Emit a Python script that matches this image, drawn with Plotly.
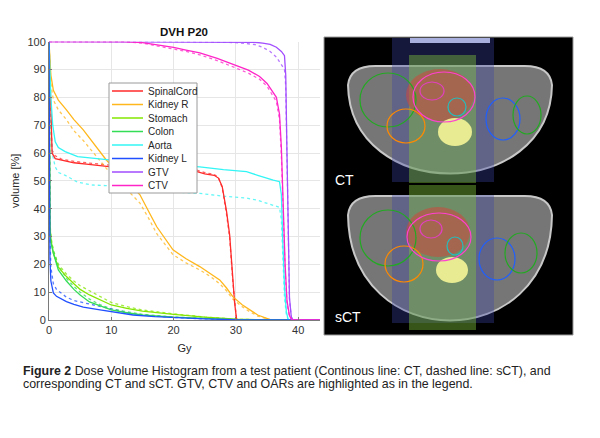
import plotly.graph_objects as go

# ---------------- data ----------------
structures = ["SpinalCord", "Kidney R", "Stomach", "Colon", "Aorta", "Kidney L", "GTV", "CTV"]
colors = ["#ff2a2a", "#ffb71c", "#84e600", "#33dd55", "#33f5f5", "#1f4fff", "#a24dff", "#ff24c8"]

cord_dose = [0, 0.2, 0.5, 1, 2, 4, 6, 9, 10, 15, 20, 23.5, 25, 26.5, 27.2, 27.8, 28.5, 29, 29.5, 29.8, 30.1, 30.3, 43.5]
cord_ct = [100, 80, 60, 58, 57.5, 56.5, 56, 55.3, 55, 54.8, 54.3, 53.5, 52.5, 52, 51, 48, 39, 30.5, 15, 6, 0.5, 0, 0]
cord_sct = [100, 78, 61, 59, 57.8, 57, 56.5, 56, 55.6, 55.2, 54.5, 54, 53, 52.3, 51.2, 47.5, 38, 29.5, 14, 5.5, 0.3, 0, 0]

kidr_dose = [0, 0.1, 0.3, 0.7, 1.5, 2.8, 4, 5.5, 7, 9.2, 12, 14.6, 16, 17.3, 19.9, 22, 24.2, 26, 27.4, 28.5, 29.5, 31, 32.2, 33.5, 35.4, 36, 43.5]
kidr_ct = [100, 95, 88, 82.5, 79, 75.5, 72, 68.3, 64, 57.5, 51, 45, 39, 33.5, 25.2, 22, 19.2, 16.5, 14.4, 11.5, 8.4, 5.5, 3.6, 1.8, 0.2, 0, 0]
kidr_sct = [100, 93, 85, 79, 75.5, 72, 68, 64.5, 60.5, 54.5, 48, 42, 36.5, 31, 23.5, 20.5, 18, 15.5, 13, 10.5, 7.5, 4.8, 3, 1.4, 0.2, 0, 0]

gi_dose = [0, 0.05, 0.15, 0.3, 0.7, 1.5, 2.8, 4, 5, 6.5, 8.2, 10, 12.5, 15, 20, 25, 30, 35, 43.5]
stom_ct = [100, 60, 35, 29, 24, 19, 15.6, 13, 11, 9, 7.2, 5.4, 4.2, 3.2, 2, 1, 0.3, 0, 0]
stom_sct = [100, 62, 36, 30, 25, 20, 16.5, 14, 12.3, 10.5, 8.5, 6.3, 4.8, 3.6, 2.2, 1.1, 0.3, 0, 0]
colon_ct = [100, 55, 33, 28, 24, 18, 14, 11, 9, 6.5, 5, 3.6, 2.6, 1.8, 1.0, 0.5, 0.15, 0, 0]
colon_sct = [100, 57, 35, 29, 25, 19.5, 15, 12, 10, 7.5, 5.5, 4, 2.9, 2, 1.1, 0.5, 0.15, 0, 0]

aorta_dose = [0, 0.1, 0.3, 0.6, 1, 1.5, 2.6, 4.6, 7, 9, 12, 16, 20, 24.2, 28, 31.7, 33.5, 34.9, 36, 37, 37.3, 37.5, 37.8, 38.1, 38.4, 43.5]
aorta_ct = [100, 92, 80, 70, 64, 62, 60.5, 58.7, 58.2, 57.8, 57, 56, 55.5, 55, 54, 53.3, 52, 50.9, 50.3, 49.7, 45, 30, 12, 3, 0, 0]
aorta_sct = [100, 85, 68, 59, 55, 53, 52, 49.5, 48.5, 48.3, 48, 47, 46, 45.5, 44.5, 43.8, 43, 42, 41.2, 40.5, 36, 22, 8, 2, 0, 0]

kidl_dose = [0, 0.05, 0.15, 0.3, 0.5, 0.7, 1.2, 2, 2.8, 4, 5.5, 8.2, 10, 13.5, 17, 20, 25, 30, 43.5]
kidl_ct = [100, 50, 22, 14, 11, 9.7, 8.5, 7.4, 6.6, 5.6, 4.6, 3.6, 2.9, 1.8, 1.2, 0.8, 0.4, 0.1, 0]
kidl_sct = [100, 60, 30, 19, 15, 13, 11, 9.5, 8.2, 7, 6.2, 4.8, 3.8, 2.2, 1.4, 0.9, 0.4, 0.1, 0]

gtv_dose = [0, 20, 30, 33, 34.3, 35.5, 36.5, 37.3, 37.8, 38.0, 38.2, 38.4, 38.6, 38.9, 39.2, 43.5]
gtv_ct = [100, 100, 100, 99.8, 99.5, 99, 98, 96.5, 95, 88, 60, 25, 8, 1, 0, 0]
gtv_sct = [100, 100, 99.7, 99, 98, 96.5, 94.5, 92, 90, 84, 55, 22, 7, 1, 0, 0]

ctv_dose = [0, 12, 15, 17, 20, 22, 24.2, 27, 29.5, 32, 33.8, 35, 36.5, 37, 37.3, 37.6, 37.9, 38.2, 38.6, 39, 43.5]
ctv_ct = [100, 100, 99.7, 99, 98, 97, 96, 94, 92, 89.8, 87.5, 85, 80, 74, 62, 40, 20, 7, 1.5, 0, 0]
ctv_sct = [100, 100, 99.5, 98.7, 97.5, 96.5, 95.3, 93.2, 91, 88.7, 86.5, 84, 78.5, 72, 59, 37, 18, 6, 1.2, 0, 0]

doses = [cord_dose, kidr_dose, gi_dose, gi_dose, aorta_dose, kidl_dose, gtv_dose, ctv_dose]
vols_ct = [cord_ct, kidr_ct, stom_ct, colon_ct, aorta_ct, kidl_ct, gtv_ct, ctv_ct]
vols_sct = [cord_sct, kidr_sct, stom_sct, colon_sct, aorta_sct, kidl_sct, gtv_sct, ctv_sct]

caption_line1 = "<b>Figure 2</b> Dose Volume Histogram from a test patient (Continous line: CT, dashed line: sCT), and"
caption_line2 = "corresponding CT and sCT. GTV, CTV and OARs are highlighted as in the legend."

W, H = 600, 438
OFF = 8  # page body margin of the browser
def X(p): return (p - OFF) / W
def Y(p): return 1 - (p - OFF) / H

fig = go.Figure()
for name, col, d, vc, vs in zip(structures, colors, doses, vols_ct, vols_sct):
    fig.add_trace(go.Scatter(x=d, y=vs, mode="lines", name=name + " (sCT)", showlegend=False,
                             line=dict(color=col, width=1.3, dash="dot"), opacity=0.75))
for name, col, d, vc, vs in zip(structures, colors, doses, vols_ct, vols_sct):
    fig.add_trace(go.Scatter(x=d, y=vc, mode="lines", name=name, showlegend=False,
                             line=dict(color=col, width=1.3)))

shapes = []
annos = []

# ---------- manual legend (compact, MATLAB style) ----------
shapes.append(dict(type="rect", xref="paper", yref="paper", x0=X(109), x1=X(197), y0=Y(193), y1=Y(83),
                   line=dict(color="#9a9a9a", width=1), fillcolor="white", layer="above"))
for i, (name, col) in enumerate(zip(structures, colors)):
    yy = 91 + 13.5 * i
    shapes.append(dict(type="line", xref="paper", yref="paper", x0=X(112), x1=X(143), y0=Y(yy), y1=Y(yy),
                       line=dict(color=col, width=1.5), layer="above"))
    annos.append(dict(xref="paper", yref="paper", x=X(146), y=Y(yy), text=name, showarrow=False,
                      xanchor="left", yanchor="middle", font=dict(size=10, color="#262626")))

# ---------- CT / sCT image approximation ----------
def P(x, y):
    return f"{X(x):.5f},{Y(y):.5f}"

def body_path(x0, x1, ytop, ybot):
    c = (ybot - 0.25 * (ytop + 20)) / 0.75
    return (f"M {P(x0, ytop+22)} Q {P(x0+2, ytop+2)} {P(x0+30, ytop+3)} L {P(x1-30, ytop+3)} "
            f"Q {P(x1-2, ytop+2)} {P(x1, ytop+22)} C {P(x1-2, c)} {P(x0+2, c)} {P(x0, ytop+22)} Z")

def ell(cx, cy, rx, ry, color, fill="rgba(0,0,0,0)", w=1.2):
    return dict(type="circle", xref="paper", yref="paper", x0=X(cx-rx), x1=X(cx+rx), y0=Y(cy+ry), y1=Y(cy-ry),
                line=dict(color=color, width=w), fillcolor=fill, layer="above")

def rect(x0, x1, y0, y1, fill, lc="rgba(0,0,0,0)", w=0):
    return dict(type="rect", xref="paper", yref="paper", x0=X(x0), x1=X(x1), y0=Y(y1), y1=Y(y0),
                line=dict(color=lc, width=w), fillcolor=fill, layer="above")

shapes.append(rect(324, 573, 37, 335, "black", "#9a9a9a", 1))
panels = [
    dict(ytop=37, ybot=194, btop=63, bbot=173, lab="CT", laby=180,
         lg=(388, 100, 28, 27), org=(406, 126, 19, 17), mag=(444, 97, 31, 25), smag=(432, 91, 12, 9),
         cy=(457, 107, 9, 9), vert=(455, 132, 17, 14), bl=(503, 119, 17, 21), rg=(527, 115, 14, 19),
         red=(440, 95, 34, 26)),
    dict(ytop=194, ybot=335, btop=193, bbot=320, lab="sCT", laby=317,
         lg=(388, 238, 28, 28), org=(404, 264, 19, 18), mag=(439, 237, 32, 24), smag=(431, 229, 11, 9),
         cy=(455, 246, 8, 9), vert=(452, 270, 16, 13), bl=(497, 259, 18, 21), rg=(521, 253, 16, 20),
         red=(438, 232, 32, 25)),
]
for pn in panels:
    shapes.append(dict(type="path", xref="paper", yref="paper", path=body_path(348, 552, pn["btop"], pn["bbot"]),
                       fillcolor="#767676", line=dict(color="#c8c8c8", width=2), layer="above"))
    shapes.append(rect(392, 494, pn["ytop"] + 1, pn["ybot"] - 12, "rgba(60,70,170,0.35)"))
    shapes.append(rect(409, 476, pn["btop"] - 8, pn["bbot"] + 10, "rgba(130,200,60,0.42)"))
    shapes.append(ell(*pn["red"], "rgba(0,0,0,0)", "rgba(210,70,60,0.55)", 0))
    shapes.append(ell(*pn["vert"], "rgba(0,0,0,0)", "rgba(245,245,150,0.9)", 0))
    shapes.append(ell(*pn["lg"], "#22aa22"))
    shapes.append(ell(*pn["org"], "#ff8a00"))
    shapes.append(ell(*pn["mag"], "#ff40d0"))
    shapes.append(ell(*pn["smag"], "#e040c0"))
    shapes.append(ell(*pn["cy"], "#20c0c0"))
    shapes.append(ell(*pn["bl"], "#1f5fff"))
    shapes.append(ell(*pn["rg"], "#22aa22"))
    annos.append(dict(xref="paper", yref="paper", x=X(333), y=Y(pn["laby"]), text=pn["lab"], showarrow=False,
                      xanchor="left", yanchor="middle", font=dict(size=14, color="white")))
shapes.append(rect(410, 490, 38, 43, "#aab0dd"))

# ---------- caption ----------
for txt, yy in [(caption_line1, 371), (caption_line2, 384)]:
    annos.append(dict(xref="paper", yref="paper", x=X(21), y=Y(yy), text=txt,
                      showarrow=False, xanchor="left", yanchor="middle", align="left",
                      font=dict(size=12.4, color="#222222", family="Liberation Sans, Arial, sans-serif")))

axis_common = dict(showgrid=True, gridcolor="#e6e6e6", gridwidth=1, zeroline=False,
                   showline=True, linecolor="#7a7a7a", linewidth=1, automargin=False,
                   ticks="inside", ticklen=3, tickcolor="#7a7a7a",
                   tickfont=dict(size=11, color="#333333"))

fig.update_layout(
    width=W, height=H, margin=dict(l=0, r=0, t=0, b=0),
    paper_bgcolor="white", plot_bgcolor="white",
    font=dict(family="Liberation Sans, Arial, sans-serif", color="#262626"),
    title=dict(text="<b>DVH P20</b>", x=X(184), xanchor="center", y=Y(32), yanchor="middle",
               font=dict(size=11.5, color="#111111")),
    xaxis=dict(domain=[X(49), X(320)], range=[0, 43.5], tickvals=[0, 10, 20, 30, 40],
               title=dict(text="Gy", font=dict(size=11), standoff=9), **axis_common),
    yaxis=dict(domain=[Y(320), Y(41.7)], range=[0, 100], tickvals=list(range(0, 101, 10)),
               title=dict(text="volume [%]", font=dict(size=11), standoff=5), **axis_common),
    shapes=shapes, annotations=annos, showlegend=False,
)

fig.write_html("out.html")
